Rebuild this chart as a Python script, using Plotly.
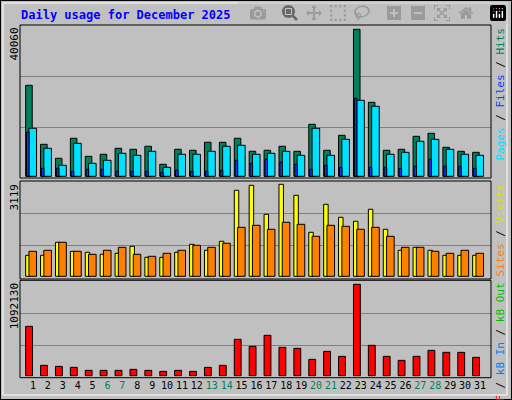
import plotly.graph_objects as go

days = list(range(1, 32))
weekend = [6, 7, 13, 14, 20, 21, 27, 28]

hits = [24800, 8720, 4910, 10360, 5450, 6000, 7630, 7360, 8180, 3270, 7360, 7090, 9270, 9270, 10360, 6810,
        7090, 8180, 6810, 14170, 7090, 11170, 40060, 20170, 7090, 7360, 10900, 11720, 7900, 6810, 6540]
files = [13080, 7630, 3000, 8990, 3540, 4360, 6270, 5720, 6810, 2450, 6000, 6000, 6810, 8180, 8450, 6000,
         6270, 6810, 5720, 13080, 5720, 10080, 20710, 19080, 6000, 6540, 9540, 10080, 7360, 6000, 5720]
pages = [11990, 2180, 2180, 1360, 1910, 1910, 1360, 1360, 1360, 1090, 1640, 1360, 1360, 1640, 4360, 3540,
         4630, 3820, 3270, 1910, 3000, 2450, 21260, 2450, 2450, 2180, 2730, 4630, 2730, 2730, 2180]
visits = [712, 712, 1153, 847, 814, 746, 780, 1017, 644, 644, 814, 1085, 882, 1187, 2916, 3085,
          2102, 3119, 2746, 1492, 2441, 2000, 1865, 2272, 1594, 882, 983, 882, 712, 712, 712]
sites = [848, 882, 1153, 848, 746, 882, 983, 746, 678, 780, 882, 1051, 983, 1119, 1661, 1729,
         1594, 1831, 1763, 1356, 1729, 1695, 1594, 1661, 1356, 983, 983, 848, 780, 882, 780]
kbytes = [589950, 123560, 111600, 99650, 63770, 63770, 63770, 75740, 63770, 51820, 63770, 51820, 99650,
          123560, 434480, 350770, 482310, 338810, 326850, 195310, 290980, 231190, 1092130, 362730,
          231190, 183360, 231190, 302940, 279020, 279020, 219230]

W, H = 512, 400
BG = "#C0C0C0"
MONO = "DejaVu Sans Mono"

fig = go.Figure()


def py(p):
    return 1 - p / H


# panel: (axis, vmax, top px, max px, base px, bottom px)
panels = [
    ("y", 40060, 25, 29.3, 176.3, 178),
    ("y2", 3119, 181, 184.3, 276.3, 279),
    ("y3", 1092130, 280.3, 284.3, 375.7, 377.7),
]


def bar(vals, color, axis, offset, width):
    fig.add_trace(go.Bar(x=days, y=vals, yaxis=axis, marker=dict(color=color, line=dict(color="black", width=1)),
                         offset=offset, width=width, showlegend=False, hoverinfo="skip"))


bar(hits, "#00805c", "y", -0.49, 0.44)
bar(files, "#00e0ff", "y", -0.27, 0.51)
bar(pages, "#0040ff", "y", -0.43, 0.17)
bar(visits, "#ffff00", "y2", -0.49, 0.3)
bar(sites, "#ff8000", "y2", -0.27, 0.51)
bar(kbytes, "#ff0000", "y3", -0.49, 0.46)

ticktext = [f'<span style="color:#00805c">{d}</span>' if d in weekend else str(d) for d in days]
fig.update_layout(
    width=W, height=H, margin=dict(l=0, r=0, t=0, b=0),
    paper_bgcolor=BG, plot_bgcolor=BG, barmode="overlay",
    font=dict(family=MONO, size=11, color="black"),
    xaxis=dict(domain=[20 / W, 491 / W], range=[0.13, 31.74], tickvals=days, ticktext=ticktext,
               tickangle=0, showgrid=False, zeroline=False, ticks="", anchor="y3", tickfont=dict(size=10)),
)
for i, (ax, vmax, top, mx, base, bot) in enumerate(panels):
    scale = vmax / (base - mx)
    key = "yaxis" if ax == "y" else "yaxis" + ax[1:]
    fig.layout[key] = dict(domain=[py(bot), py(top)], range=[-(bot - base) * scale, (base - top) * scale],
                           tickvals=[vmax * 0.33, vmax * 0.68], showticklabels=False, gridcolor="#808080",
                           gridwidth=1, zeroline=False, anchor="x", fixedrange=True)
    fig.add_shape(type="rect", xref="paper", yref="paper", x0=20 / W, x1=491 / W, y0=py(bot), y1=py(top),
                  line=dict(color="black", width=1))
    fig.add_annotation(text=str(vmax), textangle=-90, xref="paper", yref="paper", x=14 / W, y=py(top + 1),
                       xanchor="center", yanchor="top", showarrow=False, font=dict(size=11))

# outer frame
fig.add_shape(type="rect", xref="paper", yref="paper", x0=0, x1=1, y0=0, y1=1, line=dict(color="black", width=2))
fig.add_shape(type="rect", xref="paper", yref="paper", x0=3 / W, x1=507 / W, y0=py(395), y1=py(3),
              line=dict(color="white", width=1))

fig.add_annotation(text="<b>Daily usage for December 2025</b>", xref="paper", yref="paper", x=19 / W, y=py(15),
                   xanchor="left", yanchor="middle", showarrow=False, font=dict(size=12, color="#0000ff"))

sl = '<span style="color:black"> / </span>'
side = [
    (f'<span style="color:#00e0ff">Pages</span>{sl}<span style="color:#0040ff">Files</span>{sl}'
     f'<span style="color:#00805c">Hits</span>', 25),
    (f'<span style="color:#ff8000">Sites</span>{sl}<span style="color:#e0e000">Visits</span>', 181),
    (f'<span style="color:#ff0000">kB F</span>{sl}<span style="color:#0080ff">kB In</span>{sl}'
     f'<span style="color:#00c000">kB Out</span>', 280),
]
for txt, top in side:
    fig.add_annotation(text=txt, textangle=-90, xref="paper", yref="paper", x=500 / W, y=py(top + 1),
                       xanchor="center", yanchor="top", showarrow=False, font=dict(size=11))

fig.write_html("out.html", post_script="document.body.style.margin='0';")
